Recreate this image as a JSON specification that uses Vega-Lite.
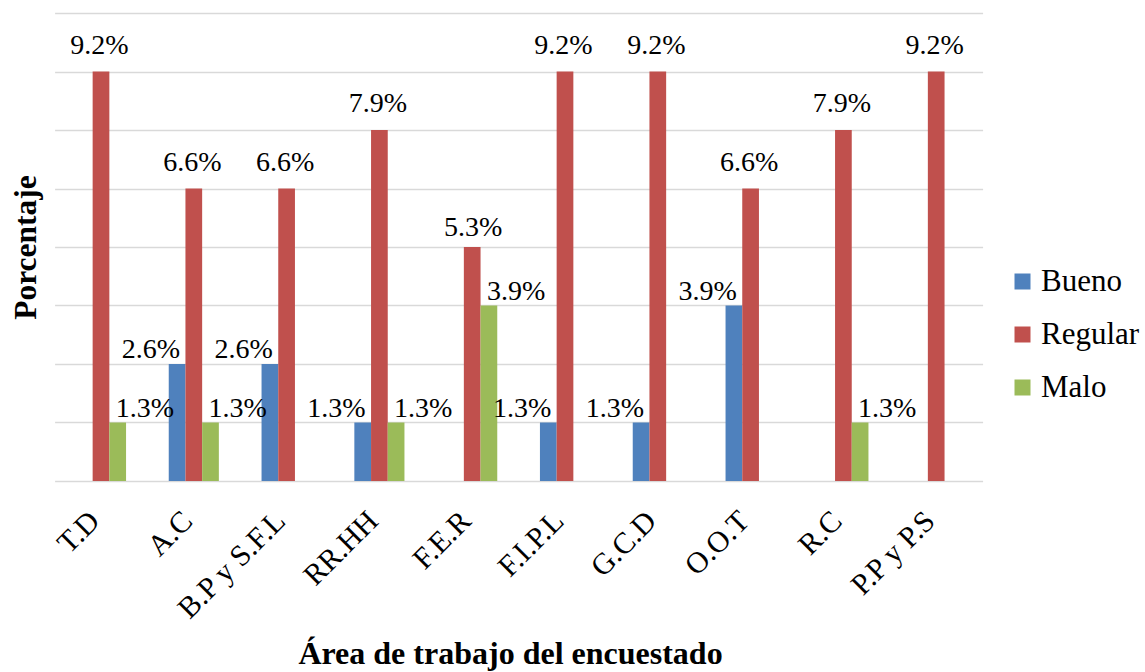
{
  "$schema": "https://vega.github.io/schema/vega-lite/v6.json",
  "autosize": "none",
  "width": 928,
  "height": 468,
  "padding": {"left": 46, "top": 13, "right": 171, "bottom": 191},
  "background": "white",
  "config": {
    "view": {"stroke": null},
    "font": "Liberation Serif"
  },
  "data": {
    "values": [
      {"area": "T.D", "serie": "Regular", "valor": 0.092105},
      {"area": "T.D", "serie": "Malo", "valor": 0.013158},
      {"area": "A.C", "serie": "Bueno", "valor": 0.026316},
      {"area": "A.C", "serie": "Regular", "valor": 0.065789},
      {"area": "A.C", "serie": "Malo", "valor": 0.013158},
      {"area": "B.P y S.F.L", "serie": "Bueno", "valor": 0.026316},
      {"area": "B.P y S.F.L", "serie": "Regular", "valor": 0.065789},
      {"area": "RR.HH", "serie": "Bueno", "valor": 0.013158},
      {"area": "RR.HH", "serie": "Regular", "valor": 0.078947},
      {"area": "RR.HH", "serie": "Malo", "valor": 0.013158},
      {"area": "F.E.R", "serie": "Regular", "valor": 0.052632},
      {"area": "F.E.R", "serie": "Malo", "valor": 0.039474},
      {"area": "F.I.P.L", "serie": "Bueno", "valor": 0.013158},
      {"area": "F.I.P.L", "serie": "Regular", "valor": 0.092105},
      {"area": "G.C.D", "serie": "Bueno", "valor": 0.013158},
      {"area": "G.C.D", "serie": "Regular", "valor": 0.092105},
      {"area": "O.O.T", "serie": "Bueno", "valor": 0.039474},
      {"area": "O.O.T", "serie": "Regular", "valor": 0.065789},
      {"area": "R.C", "serie": "Regular", "valor": 0.078947},
      {"area": "R.C", "serie": "Malo", "valor": 0.013158},
      {"area": "P.P y P.S", "serie": "Regular", "valor": 0.092105}
    ]
  },
  "encoding": {
    "x": {
      "field": "area", "type": "nominal",
      "sort": ["T.D","A.C","B.P y S.F.L","RR.HH","F.E.R","F.I.P.L","G.C.D","O.O.T","R.C","P.P y P.S"],
      "scale": {"range": [8.6, 936.6], "paddingInner": 0.46, "paddingOuter": 0.23},
      "axis": {
        "title": "Área de trabajo del encuestado",
        "titleFont": "Liberation Serif", "titleFontWeight": "bold", "titleFontSize": 32, "titleColor": "black",
        "titleX": 464, "titleY": 182, "titleBaseline": "alphabetic", "titleAlign": "center",
        "labelAngle": -45, "labelAlign": "right", "labelBaseline": "middle",
        "labelFont": "Liberation Serif", "labelFontSize": 30, "labelColor": "black", "labelPadding": 35, "labelOffset": -6,
        "domain": false, "ticks": false, "grid": false
      }
    },
    "xOffset": {"field": "serie", "type": "nominal", "scale": {"domain": ["Bueno", "Regular", "Malo"], "paddingInner": 0, "paddingOuter": 0}},
    "y": {
      "field": "valor", "type": "quantitative",
      "scale": {"domain": [0, 0.105263], "nice": false, "zero": true},
      "axis": {
        "title": "Porcentaje",
        "titleFont": "Liberation Serif", "titleFontWeight": "bold", "titleFontSize": 31.5, "titleColor": "black",
        "titleX": -11, "titleY": 234, "titleAngle": -90, "titleBaseline": "alphabetic", "titleAlign": "center",
        "values": [0, 0.013158, 0.026316, 0.039474, 0.052632, 0.065789, 0.078947, 0.092105, 0.105263],
        "labels": false, "ticks": false, "domain": false,
        "grid": true, "gridColor": "#d9d9d9", "gridWidth": 1.5
      }
    }
  },
  "layer": [
    {
      "mark": {"type": "bar"},
      "encoding": {
        "color": {
          "field": "serie", "type": "nominal",
          "scale": {"domain": ["Bueno", "Regular", "Malo"], "range": ["#4F81BD", "#C0504D", "#9BBB59"]},
          "legend": {
            "title": null, "orient": "none", "legendX": 961, "legendY": 253,
            "symbolType": "square", "symbolSize": 256, "symbolStrokeWidth": 0, "symbolOpacity": 1,
            "labelFont": "Liberation Serif", "labelFontSize": 31, "labelColor": "black",
            "labelOffset": 3, "rowPadding": 21, "padding": 0
          }
        }
      }
    },
    {
      "transform": [{"filter": "datum.serie === 'Bueno'"}],
      "mark": {"type": "text", "font": "Liberation Serif", "fontSize": 28, "color": "black", "align": "right", "baseline": "alphabetic", "dx": 3, "dy": -5.5},
      "encoding": {"text": {"field": "valor", "type": "quantitative", "format": ".1%"}}
    },
    {
      "transform": [{"filter": "datum.serie === 'Regular' && datum.area !== 'F.E.R'"}],
      "mark": {"type": "text", "font": "Liberation Serif", "fontSize": 28, "color": "black", "align": "center", "baseline": "alphabetic", "dx": -1.5, "dy": -18},
      "encoding": {"text": {"field": "valor", "type": "quantitative", "format": ".1%"}}
    },
    {
      "transform": [{"filter": "datum.serie === 'Regular' && datum.area === 'F.E.R'"}],
      "mark": {"type": "text", "font": "Liberation Serif", "fontSize": 28, "color": "black", "align": "center", "baseline": "alphabetic", "dx": 1, "dy": -10.5},
      "encoding": {"text": {"field": "valor", "type": "quantitative", "format": ".1%"}}
    },
    {
      "transform": [{"filter": "datum.serie === 'Malo'"}],
      "mark": {"type": "text", "font": "Liberation Serif", "fontSize": 28, "color": "black", "align": "left", "baseline": "alphabetic", "dx": -2, "dy": -5.5},
      "encoding": {"text": {"field": "valor", "type": "quantitative", "format": ".1%"}}
    }
  ]
}
